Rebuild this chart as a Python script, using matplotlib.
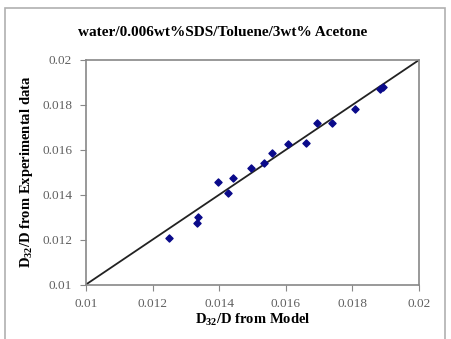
import matplotlib
matplotlib.use("Agg")
import matplotlib.pyplot as plt
from matplotlib.patches import Rectangle

model = [0.0125, 0.01337, 0.01332, 0.01395, 0.01441, 0.01426, 0.01495, 0.01535,
         0.01558, 0.01608, 0.01661, 0.01695, 0.0174, 0.01808, 0.01892, 0.01883]
experimental = [0.01205, 0.01299, 0.01275, 0.01456, 0.01475, 0.01407, 0.01517, 0.01542,
                0.01587, 0.01624, 0.01629, 0.01718, 0.0172, 0.01782, 0.01878, 0.0187]
ticks = [0.01, 0.012, 0.014, 0.016, 0.018, 0.02]
tick_labels = ["0.01", "0.012", "0.014", "0.016", "0.018", "0.02"]
diag = [0.01, 0.02]

plt.rcParams['font.family'] = ['Liberation Serif', 'DejaVu Serif']
plt.rcParams['mathtext.fontset'] = 'custom'
plt.rcParams['mathtext.rm'] = 'Liberation Serif:bold'
plt.rcParams['mathtext.bf'] = 'Liberation Serif:bold'
plt.rcParams['mathtext.default'] = 'bf'
W, H = 451, 339
fig = plt.figure(figsize=(W/100, H/100), dpi=100)
fig.patches.append(Rectangle((5/W, -0.1), (445-5)/W, (339-8)/H + 0.1, transform=fig.transFigure,
                             fill=False, edgecolor='#b0b0b0', linewidth=1.2))
ax = fig.add_axes([86/W, 1 - 284.5/H, (419-86)/W, (284.5-60)/H])
ax.plot(diag, diag, color='#222222', linewidth=1.3, zorder=2)
ax.scatter(model, experimental, marker='D', s=13, color='#0a0a8a', zorder=3)
ax.set_xlim(0.01, 0.02)
ax.set_ylim(0.01, 0.02)
ax.set_xticks(ticks)
ax.set_xticklabels(tick_labels)
ax.set_yticks(ticks)
ax.set_yticklabels(tick_labels)
for s in ax.spines.values():
    s.set_color('#888888')
    s.set_linewidth(1.2)
ax.tick_params(direction='out', length=4, color='#888888', labelsize=9.5, labelcolor='#606060', pad=6)
ax.set_xlabel("D$_{32}$/D from Model", fontsize=10.5, fontweight='bold', labelpad=1)
ax.set_ylabel("D$_{32}$/D from Experimental data", fontsize=10.5, fontweight='bold', labelpad=5)
fig.text(223/W, 1 - 33/H, "water/0.006wt%SDS/Toluene/3wt% Acetone", ha='center', va='center',
         fontsize=11, fontweight='bold')
fig.savefig("out.png", dpi=100)
